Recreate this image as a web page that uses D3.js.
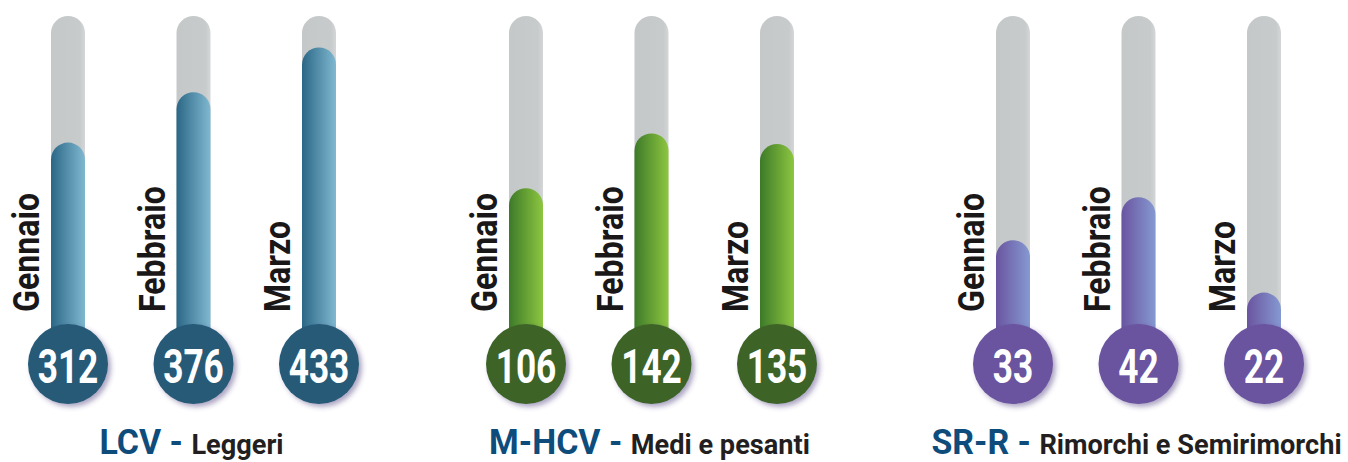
<!DOCTYPE html>
<html>
<head>
<meta charset="utf-8">
<script src="https://cdn.jsdelivr.net/npm/d3@7"></script>
<style>
    body { margin: 0; background: #fff; }
    text { font-family: Roboto, "Liberation Sans Narrow", sans-serif; font-weight: bold; }
</style>
</head>
<body>
<div id="chart"></div>
<script>
var months = ["Gennaio", "Febbraio", "Marzo"];
var groupCodes = ["LCV", "M-HCV", "SR-R"];
var groupNames = ["Leggeri", "Medi e pesanti", "Rimorchi e Semirimorchi"];
var lcvValues = [312, 376, 433];
var mhcvValues = [106, 142, 135];
var srrValues = [33, 42, 22];
// scale domain of each thermometer group (bottom, top of tube)
var groupDomains = [[0, 473], [-25, 219], [2, 80]];

var width = 1348,
    height = 462,
    tubeTop = 16,
    tubeBase = 388,
    tubeWidth = 34,
    bulbY = 364,
    bulbR = 40,
    squeeze = 0.88,
    groupX = [68, 526, 1013],
    colors = [
        { bulb: "#265a77", dark: "#2b6786", light: "#80b8d0" },
        { bulb: "#3e6426", dark: "#3d7a29", light: "#8dc640" },
        { bulb: "#6a529f", dark: "#6a54a0", light: "#8599d1" }
    ];

var groups = [lcvValues, mhcvValues, srrValues].map(function(values, i) {
    return { code: groupCodes[i], name: groupNames[i], values: values, domain: groupDomains[i], color: colors[i], x: groupX[i] };
});

var svg = d3.select("#chart").append("svg")
    .attr("width", width)
    .attr("height", height);

var defs = svg.append("defs");

var shadow = defs.append("filter")
    .attr("id", "shadow")
    .attr("x", "-30%").attr("y", "-30%")
    .attr("width", "160%").attr("height", "160%");
shadow.append("feDropShadow")
    .attr("dx", 3).attr("dy", 3)
    .attr("stdDeviation", 2.5)
    .attr("flood-color", "#4a3c7a")
    .attr("flood-opacity", 0.45);

groups.forEach(function(g, i) {
    var grad = defs.append("linearGradient")
        .attr("id", "fill" + i)
        .attr("x1", "0%").attr("x2", "100%");
    grad.append("stop").attr("offset", "0%").attr("stop-color", g.color.dark);
    grad.append("stop").attr("offset", "100%").attr("stop-color", g.color.light);
});

var track = defs.append("linearGradient")
    .attr("id", "track")
    .attr("x1", "0%").attr("x2", "100%");
track.append("stop").attr("offset", "0%").attr("stop-color", "#c5c8c9");
track.append("stop").attr("offset", "85%").attr("stop-color", "#c8cbcc");
track.append("stop").attr("offset", "100%").attr("stop-color", "#d4d6d7");

var xInner = d3.scalePoint()
    .domain(months)
    .range([0, 251]);

var groupG = svg.selectAll(".group")
    .data(groups)
    .enter().append("g")
    .attr("class", "group")
    .attr("transform", function(d) { return "translate(" + d.x + ",0)"; });

groupG.each(function(g, gi) {
    var y = d3.scaleLinear()
        .domain(g.domain)
        .range([tubeBase, tubeTop]);

    var therm = d3.select(this).selectAll(".therm")
        .data(g.values.map(function(v, j) { return { month: months[j], value: v }; }))
        .enter().append("g")
        .attr("class", "therm")
        .attr("transform", function(d) { return "translate(" + xInner(d.month) + ",0)"; });

    therm.append("rect")
        .attr("class", "track")
        .attr("x", -tubeWidth / 2)
        .attr("y", tubeTop)
        .attr("width", tubeWidth)
        .attr("height", bulbY - tubeTop)
        .attr("rx", tubeWidth / 2)
        .style("fill", "url(#track)");

    therm.append("rect")
        .attr("class", "level")
        .attr("x", -tubeWidth / 2)
        .attr("y", function(d) { return y(d.value); })
        .attr("width", tubeWidth)
        .attr("height", function(d) { return bulbY - y(d.value); })
        .attr("rx", tubeWidth / 2)
        .style("fill", "url(#fill" + gi + ")");

    therm.append("circle")
        .attr("cy", bulbY)
        .attr("r", bulbR)
        .style("fill", g.color.bulb)
        .attr("filter", "url(#shadow)");

    therm.append("text")
        .attr("transform", "translate(0," + (bulbY + 19) + ") scale(0.72,1)")
        .attr("text-anchor", "middle")
        .style("font-size", "49px")
        .style("fill", "#fff")
        .text(function(d) { return d.value; });

    therm.append("text")
        .attr("transform", "translate(-29,312) rotate(-90) scale(" + squeeze + ",1)")
        .style("font-size", "36.5px")
        .style("fill", "#1a1718")
        .text(function(d) { return d.month; });

    var label = d3.select(this).append("text")
        .attr("transform", "translate(" + (xInner(months[1]) - 2) + ",454) scale(0.97,1)")
        .attr("text-anchor", "middle");
    label.append("tspan")
        .style("font-size", "35px")
        .style("fill", "#0e4c7c")
        .text(g.code + " - ");
    label.append("tspan")
        .style("font-size", "28px")
        .style("fill", "#231f20")
        .text(g.name);
});
</script>
</body>
</html>
